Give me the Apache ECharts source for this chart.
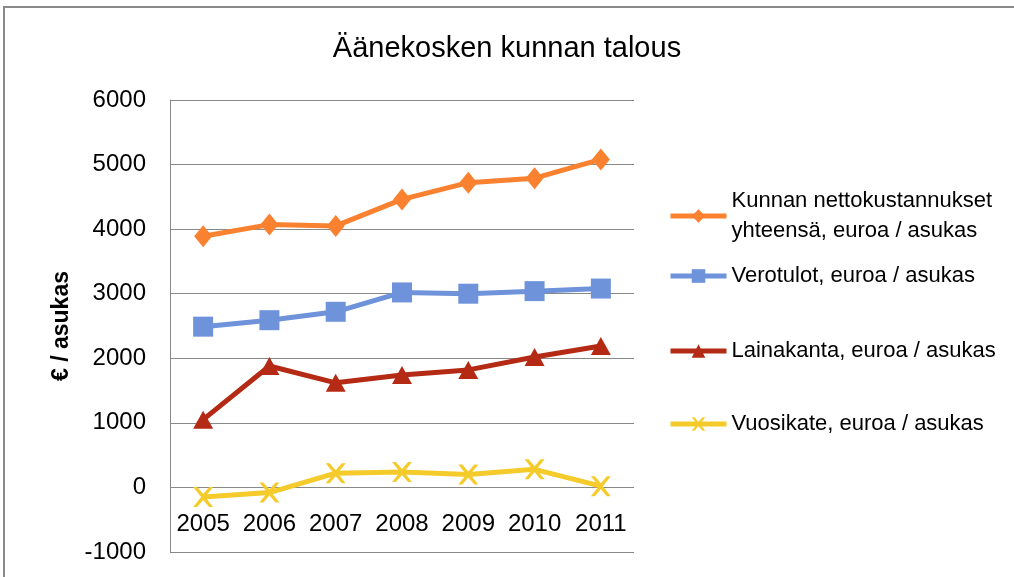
<!DOCTYPE html>
<html><head><meta charset="utf-8">
<script src="https://cdn.jsdelivr.net/npm/echarts@6/dist/echarts.min.js"></script>
<style>html,body{margin:0;padding:0;background:#fff}#c{width:1014px;height:577px}</style>
</head><body><div id="c"></div>
<script>
const years = ['2005','2006','2007','2008','2009','2010','2011'];
const nettokustannukset = [3890, 4070, 4050, 4460, 4720, 4790, 5080];
const verotulot = [2490, 2590, 2720, 3020, 3000, 3040, 3080];
const lainakanta = [1050, 1880, 1620, 1740, 1820, 2020, 2190];
const vuosikate = [-150, -80, 220, 240, 200, 280, 20];
const seriesNames = ['Kunnan nettokustannukset\nyhteensä, euroa / asukas','Verotulot, euroa / asukas','Lainakanta, euroa / asukas','Vuosikate, euroa / asukas'];

const FONT = '"Liberation Sans", "DejaVu Sans", sans-serif';
const colors = ['#F9812F', '#6E93DA', '#B42A14', '#F5CB2C'];
const xPath = 'path://M0,0 L2,0 L5,3.5 L8,0 L10,0 L6,5 L10,10 L8,10 L5,6.5 L2,10 L0,10 L4,5 Z';

function mk(name, data, color, symbol, size) {
  return {
    type: 'line', name: name, data: data, symbol: symbol, symbolSize: size,
    lineStyle: {color: color, width: 5}, itemStyle: {color: color},
    showAllSymbol: true, animation: false, z: 3
  };
}
const legendTops = [181, 256, 331, 404];
const chart = echarts.init(document.getElementById('c'));
chart.setOption({
  animation: false,
  title: {text: 'Äänekosken kunnan talous', left: 'center', top: 29,
    textStyle: {fontFamily: FONT, fontSize: 29, fontWeight: 'normal', color: '#000'}},
  grid: {left: 170, right: 380, top: 100, bottom: 25, outerBoundsMode: 'none', containLabel: false},
  graphic: [{type: 'rect', shape: {x: 4, y: 7, width: 1030, height: 600},
    style: {fill: 'none', stroke: '#8a8a8a', lineWidth: 2}, silent: true}],
  legend: seriesNames.map((n, i) => ({
    data: [n], left: 663, top: legendTops[i], orient: 'vertical',
    itemWidth: 56, itemHeight: 17, itemGap: 0,
    lineStyle: {width: 5},
    textStyle: {fontFamily: FONT, fontSize: 22, color: '#000', lineHeight: 30},
    selectedMode: false
  })),
  xAxis: {type: 'category', data: years, boundaryGap: true,
    offset: -64.57,
    axisLine: {show: false, onZero: false},
    axisTick: {show: false},
    axisLabel: {fontFamily: FONT, fontSize: 24, color: '#000', margin: 25, interval: 0}},
  yAxis: {type: 'value', min: -1000, max: 6000, interval: 1000,
    name: '€ / asukas', nameLocation: 'middle', nameGap: 97, nameRotate: 90,
    nameTextStyle: {fontFamily: FONT, fontSize: 23, fontWeight: 'bold', color: '#000'},
    axisLine: {show: true, lineStyle: {color: '#888', width: 1}},
    axisTick: {show: false},
    splitLine: {lineStyle: {color: '#888', width: 1}},
    axisLabel: {fontFamily: FONT, fontSize: 24, color: '#000', margin: 24,
      formatter: v => String(v)}},
  series: [
    mk(seriesNames[0], nettokustannukset, colors[0], 'diamond', [18, 22]),
    mk(seriesNames[1], verotulot, colors[1], 'rect', 20),
    mk(seriesNames[2], lainakanta, colors[2], 'triangle', [20, 18]),
    mk(seriesNames[3], vuosikate, colors[3], xPath, 20)
  ]
});
</script></body></html>
